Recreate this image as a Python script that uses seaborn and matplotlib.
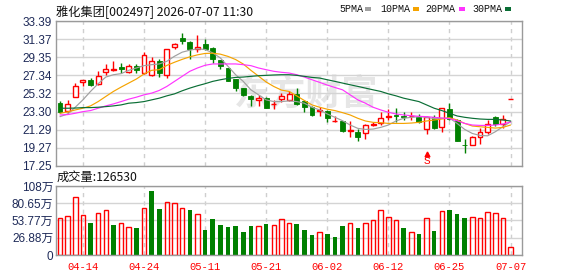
import numpy as np
import pandas as pd
import matplotlib
matplotlib.use('Agg')
import matplotlib.pyplot as plt
from matplotlib.patches import Rectangle
import seaborn as sns

sns.set_theme(style='white')
plt.rcParams['font.family'] = ['Liberation Sans', 'Noto Sans CJK SC', 'DejaVu Sans']

# ---------------- data ----------------
title = '雅化集团[002497] 2026-07-07 11:30'
tick_idx = [3, 11, 19, 27, 35, 43, 51, 59]
tick_labels = ['04-14', '04-24', '05-11', '05-21', '06-02', '06-12', '06-25', '07-07']

opens = [24.24, 23.38, 24.91, 26.59, 26.82, 26.37, 27.68, 27.95, 28.27, 27.68,
         28.42, 27.60, 27.38, 28.95, 27.41, 30.52, 31.52, 31.08, 30.22, 30.78,
         30.40, 29.10, 28.16, 26.93, 25.92, 25.06, 24.62, 24.80, 24.10, 24.69,
         24.61, 25.28, 24.50, 23.86, 23.34, 23.38, 22.25, 22.26, 21.17, 20.99,
         20.87, 21.82, 22.07, 22.70, 22.90, 22.85, 22.76, 22.74, 21.32, 22.74,
         21.55, 23.57, 22.37, 19.60, 19.64, 20.50, 21.06, 22.67, 21.92, 24.69]
highs = [24.50, 24.61, 26.48, 26.85, 27.00, 27.86, 28.65, 28.91, 28.69, 28.61,
         28.61, 29.96, 29.39, 29.17, 30.29, 30.96, 32.09, 31.15, 31.79, 31.41,
         30.48, 29.10, 28.16, 26.93, 25.92, 25.17, 25.17, 24.91, 24.61, 25.36,
         25.55, 25.92, 24.61, 23.94, 23.79, 23.49, 22.82, 22.26, 22.26, 21.36,
         21.92, 22.18, 23.30, 23.57, 23.68, 23.30, 23.27, 23.04, 22.82, 22.93,
         23.75, 24.24, 22.44, 20.24, 20.58, 21.44, 22.37, 22.82, 22.93, 24.69]
lows = [23.10, 23.12, 24.91, 26.11, 26.14, 26.29, 27.38, 27.79, 27.60, 27.60,
        27.60, 27.53, 27.30, 27.15, 27.04, 30.29, 30.78, 29.17, 29.96, 30.14,
        28.72, 28.05, 26.67, 25.55, 25.06, 23.94, 23.94, 23.68, 23.60, 24.42,
        24.54, 24.05, 23.30, 22.85, 22.82, 22.18, 22.15, 21.06, 20.43, 20.05,
        20.31, 21.70, 21.81, 22.37, 22.18, 22.37, 22.37, 21.99, 20.80, 21.32,
        21.06, 22.37, 20.05, 18.71, 19.57, 19.75, 20.80, 21.70, 21.44, 24.69]
closes = [23.27, 24.13, 26.11, 26.82, 26.22, 27.26, 28.05, 28.03, 28.08, 28.42,
          27.97, 29.66, 28.95, 27.60, 30.29, 30.85, 31.15, 30.22, 30.52, 30.22,
          29.17, 28.35, 26.74, 25.92, 25.17, 24.76, 24.80, 23.75, 24.16, 24.99,
          25.28, 24.16, 23.79, 22.93, 23.45, 22.56, 22.30, 21.14, 21.25, 20.50,
          21.81, 21.88, 22.56, 22.76, 22.80, 22.74, 22.82, 22.18, 22.74, 21.47,
          23.68, 22.48, 20.05, 19.55, 20.50, 21.02, 21.88, 21.92, 22.44, 24.69]
volume = [57.1, 60.8, 89.9, 62.3, 49.9, 64.9, 69.6, 46.8, 49.9, 43.1,
          42.1, 72.7, 99.7, 71.7, 82.1, 80.5, 72.7, 70.1, 63.4, 39.0,
          56.1, 46.8, 43.6, 45.2, 35.8, 45.2, 44.7, 48.3, 46.2, 55.6,
          49.4, 48.3, 39.0, 31.2, 35.3, 32.7, 28.1, 45.2, 49.4, 42.1,
          49.4, 54.0, 69.6, 58.7, 54.0, 42.1, 35.3, 32.7, 57.1, 37.4,
          68.1, 70.1, 63.9, 57.7, 58.7, 57.1, 66.5, 64.9, 57.1, 12.65]
ma5 = [22.74, 23.04, 23.79, 24.61, 25.55, 26.41, 27.15, 27.41, 27.53, 27.90,
       28.16, 28.42, 28.53, 28.61, 28.91, 29.47, 29.92, 30.14, 30.29, 30.22,
       29.84, 29.28, 28.35, 27.41, 26.67, 25.73, 25.17, 24.61, 24.42, 24.42,
       24.50, 24.42, 24.24, 23.79, 23.49, 23.04, 22.67, 22.29, 21.81, 21.44,
       21.32, 21.36, 21.55, 21.81, 22.26, 22.56, 22.67, 22.74, 22.67, 22.52,
       22.56, 22.59, 21.99, 21.32, 20.87, 20.65, 20.61, 21.06, 21.62, 22.18]
ma10 = [23.12, 23.27, 23.49, 23.68, 23.94, 24.42, 24.99, 25.55, 26.03, 26.48,
        26.93, 27.49, 27.90, 27.97, 28.45, 28.80, 29.12, 29.40, 29.62, 29.78,
        29.80, 29.70, 29.45, 29.10, 28.60, 27.90, 27.25, 26.60, 26.10, 25.70,
        25.55, 25.06, 24.54, 24.05, 23.79, 23.57, 23.42, 23.19, 22.93, 22.56,
        22.26, 22.11, 22.07, 21.99, 21.99, 21.99, 22.03, 22.11, 22.26, 22.37,
        22.48, 22.63, 22.37, 21.99, 21.70, 21.62, 21.55, 21.47, 21.55, 21.81]
ma20 = [22.93, 22.97, 23.12, 23.30, 23.42, 23.68, 23.94, 24.16, 24.42, 24.69,
        24.91, 25.17, 25.36, 25.66, 26.11, 26.67, 27.23, 27.79, 28.16, 28.46,
        28.61, 28.61, 28.61, 28.61, 28.53, 28.42, 28.16, 27.97, 27.79, 27.68,
        27.60, 27.41, 27.15, 26.85, 26.56, 26.26, 25.99, 25.73, 25.17, 24.61,
        24.24, 23.79, 23.49, 23.23, 23.04, 22.93, 22.85, 22.78, 22.74, 22.67,
        22.59, 22.52, 22.29, 21.99, 21.81, 21.77, 21.77, 21.81, 21.92, 22.15]
ma30 = [23.68, 23.68, 23.70, 23.75, 23.75, 23.79, 23.86, 23.94, 24.05, 24.24,
        24.31, 24.42, 24.61, 24.80, 25.06, 25.28, 25.62, 25.92, 26.18, 26.41,
        26.67, 26.85, 27.00, 27.11, 27.15, 27.23, 27.30, 27.34, 27.38, 27.41,
        27.41, 27.34, 27.23, 27.11, 27.04, 26.85, 26.67, 26.48, 26.29, 26.11,
        25.92, 25.73, 25.55, 25.28, 25.06, 24.80, 24.61, 24.42, 24.05, 23.68,
        23.42, 23.12, 22.82, 22.67, 22.56, 22.48, 22.44, 22.44, 22.37, 22.26]
price_ticks = [17.25, 19.27, 21.29, 23.30, 25.32, 27.34, 29.35, 31.37, 33.39]
vol_ticks = [0, 26.88, 53.77, 80.65, 107.53]
vol_tick_labels = ['0', '26.88万', '53.77万', '80.65万', '108万']
last_volume = '126530'
signal_idx = 48

RED = '#ff0000'
GREEN = '#008000'
MA_COLORS = {'5PMA': '#a0a0a0', '10PMA': '#f5a300', '20PMA': '#ff33ff', '30PMA': '#0a6e35'}
LABEL_C = '#1e2a58'
GRID_C = '#d4d4d4'
SPINE_C = '#9a9a9a'

# ---------------- layout ----------------
W, H = 578, 276
fig = plt.figure(figsize=(W / 100, H / 100), dpi=100)
fig.patch.set_facecolor('white')


def rect(l, t, r, b):
    return [l / W, 1 - b / H, (r - l) / W, (b - t) / H]


ax = fig.add_axes(rect(56, 21, 522, 166))
axv = fig.add_axes(rect(56, 186, 522, 255))

n = len(closes)
x = np.arange(n)
o = np.array(opens); c = np.array(closes); hi = np.array(highs); lo = np.array(lows)
up = c >= o

# watermark
ax.text(0.536, 0.50, '东方财富', transform=ax.transAxes, fontsize=26, color='#e6e6e6',
        ha='center', va='center', zorder=0.5, fontweight='bold',
        family=['Noto Sans CJK SC'])

# candles
cols = np.where(up, RED, GREEN)
ax.vlines(x, lo, hi, colors=cols, linewidth=1, zorder=2)
bw = 0.64
for i in range(n):
    bottom = min(o[i], c[i])
    height = max(abs(c[i] - o[i]), 0.06)
    if up[i]:
        ax.add_patch(Rectangle((x[i] - bw / 2, bottom), bw, height, facecolor='white',
                               edgecolor=RED, linewidth=1, zorder=3))
    else:
        ax.add_patch(Rectangle((x[i] - bw / 2, bottom), bw, height, facecolor=GREEN,
                               edgecolor=GREEN, linewidth=0.6, zorder=3))

# moving averages
ma_df = pd.concat([
    pd.DataFrame({'idx': x, 'val': ma5, 'ma': '5PMA'}),
    pd.DataFrame({'idx': x, 'val': ma10, 'ma': '10PMA'}),
    pd.DataFrame({'idx': x, 'val': ma20, 'ma': '20PMA'}),
    pd.DataFrame({'idx': x, 'val': ma30, 'ma': '30PMA'}),
])
sns.lineplot(data=ma_df, x='idx', y='val', hue='ma', palette=MA_COLORS,
             hue_order=['5PMA', '10PMA', '20PMA', '30PMA'], linewidth=0.85,
             legend=False, ax=ax, zorder=4)

# signal marker
ax.plot([signal_idx], [18.62], marker='^', color=RED, markersize=3.5, zorder=5)
ax.text(signal_idx, 17.86, 'S', color=RED, fontsize=8, ha='center', va='center',
        family=['Liberation Mono'], zorder=5)

ax.set_xlim(-0.52, n + 0.5)
ax.set_ylim(price_ticks[0], price_ticks[-1])
ax.set_yticks(price_ticks)
ax.set_yticklabels([f'{t:.2f}' for t in price_ticks])
ax.set_xticks(tick_idx)
ax.set_xticklabels([])
ax.set_xlabel('')
ax.set_ylabel('')
ax.yaxis.grid(True, color=GRID_C, linewidth=1, linestyle='-')
ax.xaxis.grid(True, color='#cfcfcf', linewidth=1, linestyle=(0, (3, 3)))
ax.set_axisbelow(True)
ax.tick_params(axis='both', length=0, pad=3, labelsize=8.5, labelcolor=LABEL_C)
for s in ax.spines.values():
    s.set_color(SPINE_C)
    s.set_linewidth(1)
    s.set_visible(True)

# volume
vol_df = pd.DataFrame({'idx': x, 'vol': volume})
prev = np.concatenate([[c[0] - 1], c[:-1]])
vol_up = c >= prev
sns.barplot(data=vol_df[~vol_up], x='idx', y='vol', native_scale=True, color=GREEN,
            saturation=1, width=0.6, errorbar=None, linewidth=0, ax=axv)
sns.barplot(data=vol_df[vol_up], x='idx', y='vol', native_scale=True, color=RED,
            saturation=1, width=0.6, errorbar=None, fill=False, linewidth=1, ax=axv)
axv.set_xlim(-0.52, n + 0.5)
axv.set_ylim(0, vol_ticks[-1])
axv.set_yticks(vol_ticks)
axv.set_yticklabels(vol_tick_labels)
axv.set_xticks(tick_idx)
axv.set_xticklabels(tick_labels, color=RED, family=['Liberation Mono'], fontsize=7.6)
axv.set_xlabel('')
axv.set_ylabel('')
axv.yaxis.grid(True, color=GRID_C, linewidth=1, linestyle='-')
axv.xaxis.grid(True, color='#cfcfcf', linewidth=1, linestyle=(0, (3, 3)))
axv.set_axisbelow(True)
axv.tick_params(axis='y', length=0, pad=2, labelsize=8.5, labelcolor=LABEL_C)
axv.tick_params(axis='x', length=0, pad=5)
for s in axv.spines.values():
    s.set_color(SPINE_C)
    s.set_linewidth(1)
    s.set_visible(True)

# texts
fig.text(56 / W, 1 - 12 / H, title, fontsize=8.8, color='#111111', va='center', ha='left',
         family=['Noto Sans CJK SC'])
fig.text(57 / W, 1 - 177.5 / H, '成交量:' + last_volume, fontsize=8.8, color='#111111',
         va='center', ha='left', family=['Noto Sans CJK SC'])

leg = [('5PMA', 339, 365), ('10PMA', 380, 413), ('20PMA', 425, 459), ('30PMA', 472, 505)]
for name, tx, sx in leg:
    fig.text(tx / W, 1 - 9 / H, name, fontsize=7.2, color='#111111', va='center', ha='left',
             family=['Liberation Mono'])
    fig.patches.append(Rectangle((sx / W, 1 - 10.5 / H), 5.5 / W, 3.5 / H,
                                 transform=fig.transFigure, facecolor=MA_COLORS[name],
                                 edgecolor='none'))

fig.savefig('out.png', dpi=100, facecolor='white')
